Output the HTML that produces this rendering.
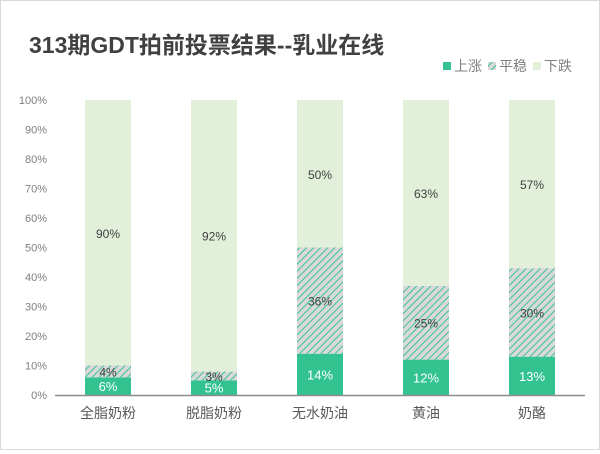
<!DOCTYPE html>
<html><head><meta charset="utf-8"><style>
body{margin:0;background:#fff;}
#wrap{position:relative;width:598px;height:448px;border:1px solid #d9d9d9;background:#fff;font-family:"Liberation Sans","Noto Sans CJK SC",sans-serif;}
</style></head><body>
<div id="wrap">
<svg id="chart" width="598" height="448">
<defs>
<pattern id="hatch" width="5" height="5" patternUnits="userSpaceOnUse" patternTransform="rotate(45)">
<rect width="5" height="5" fill="#d9d9d9"/>
<line x1="0" y1="0" x2="0" y2="5" stroke="#3cc295" stroke-width="2"/>
</pattern>
</defs>
<text x="28" y="52" font-size="23" font-weight="bold" fill="#404040">313期GDT拍前投票结果--乳业在线</text>
<g>
<rect x="442" y="61" width="8" height="8" fill="#33c391"/>
<text x="453" y="70" font-size="14" fill="#7f7f7f">上涨</text>
<rect x="487" y="61" width="8" height="8" fill="url(#hatch)"/>
<text x="498" y="70" font-size="14" fill="#7f7f7f">平稳</text>
<rect x="532" y="61" width="8" height="8" fill="#e2f0d9"/>
<text x="543" y="70" font-size="14" fill="#7f7f7f">下跌</text>
</g>
<g id="plot"></g>
</svg>
</div>
<script>
const categories=["全脂奶粉","脱脂奶粉","无水奶油","黄油","奶酪"];
const upValues=[6,5,14,12,13];
const flatValues=[4,3,36,25,30];
const downValues=[90,92,50,63,57];
const yTicks=[0,10,20,30,40,50,60,70,80,90,100];
const NS="http://www.w3.org/2000/svg";
const g=document.getElementById("plot");
const x0=54,x1=584,yBase=394,yTop=99,bw=46;
const y=v=>yBase-(v/100)*(yBase-yTop);
const band=(x1-x0)/categories.length;
const xc=i=>x0+band*(i+0.5);
function mk(t,a){const e=document.createElementNS(NS,t);for(const k in a)e.setAttribute(k,a[k]);g.appendChild(e);return e;}
yTicks.forEach(t=>{
 const e=mk("text",{x:46,y:y(t)+4,"font-size":11,fill:"#7f7f7f","text-anchor":"end"});
 
 
 e.textContent=t+"%";
});
categories.forEach((c,i)=>{
 const segs=[[upValues[i],"#33c391","#fff",13],[flatValues[i],"url(#hatch)","#404040",12],[downValues[i],"#e2f0d9","#404040",12]];
 let acc=0;
 const names=["bar-up","bar-flat","bar-down"];
 segs.forEach((s,k)=>{
  const r=mk("rect",{x:xc(i)-bw/2,y:y(acc+s[0]),width:bw,height:y(acc)-y(acc+s[0]),fill:s[1]});
  
  
  const l=mk("text",{x:xc(i),y:y(acc+s[0]/2)+5,"font-size":s[3],fill:s[2],"text-anchor":"middle"});
  
  
  l.textContent=s[0]+"%";
  acc+=s[0];
 });
 const cl=mk("text",{x:xc(i),y:417,"font-size":14,fill:"#595959","text-anchor":"middle"});
 
 
 cl.textContent=c;
});
const ax=mk("line",{x1:x0,x2:x1,y1:yBase+0.5,y2:yBase+0.5,stroke:"#8c8c8c","stroke-width":1.5});


</script>
</body></html>
